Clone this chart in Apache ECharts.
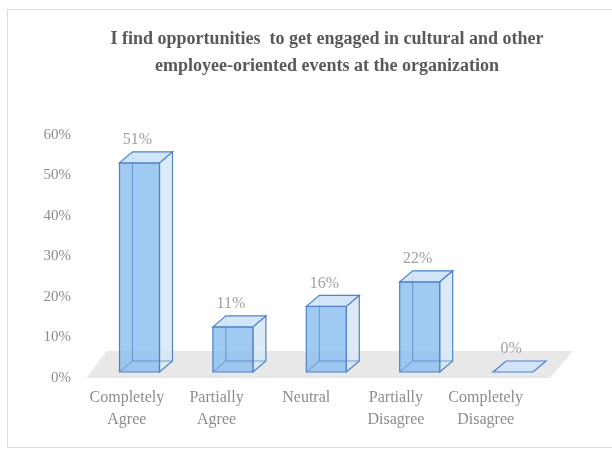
<!DOCTYPE html>
<html>
<head>
<meta charset="utf-8">
<script src="https://cdn.jsdelivr.net/npm/echarts@6/dist/echarts.min.js"></script>
<style>
  html, body { margin: 0; padding: 0; background: #ffffff; }
  #chart { width: 612px; height: 450px; }
</style>
</head>
<body>
<div id="chart"></div>
<script>
// Survey responses, share of respondents per answer
const categories = [
  'Completely\nAgree',
  'Partially\nAgree',
  'Neutral',
  'Partially\nDisagree',
  'Completely\nDisagree'
];
const shares = [51, 11, 16, 22, 0];
const yTicks = [0, 10, 20, 30, 40, 50, 60];
const titleLines = [
  'I find opportunities  to get engaged in cultural and other',
  'employee-oriented events at the organization'
];

const SERIF = '"Liberation Serif", "Times New Roman", serif';
const TEXT_GREY = '#8c8c8c';

// 3D box geometry (pixels)
const HALF_W = 20;      // half width of the front face
const DEPTH_X = 13;     // horizontal shift of the back face
const DEPTH_Y = -11;    // vertical shift of the back face

const EDGE = '#4f82c8';
const EDGE_BACK = 'rgba(79,130,200,0.75)';

function renderBox(params, api) {
  const idx = api.value(0);
  const val = api.value(1);
  const top = api.coord([idx, val]);
  const base = api.coord([idx, 0]);
  const cx = top[0];
  const xl = cx - HALF_W, xr = cx + HALF_W;
  const yt = top[1], yb = base[1];
  const bxl = xl + DEPTH_X, bxr = xr + DEPTH_X;
  const byt = yt + DEPTH_Y, byb = yb + DEPTH_Y;

  const children = [];
  if (yb - yt > 0.5) {
    // right side face
    children.push({
      type: 'polygon',
      shape: { points: [[xr, yb], [bxr, byb], [bxr, byt], [xr, yt]] },
      style: { fill: 'rgba(214,230,247,0.85)', stroke: EDGE, lineWidth: 1.2 }
    });
    // front face
    children.push({
      type: 'rect',
      shape: { x: xl, y: yt, width: xr - xl, height: yb - yt },
      style: { fill: 'rgba(140,190,240,0.82)', stroke: EDGE, lineWidth: 1.2 }
    });
    // hidden back edges seen through the translucent front
    children.push({
      type: 'polyline',
      shape: { points: [[bxl, byt], [bxl, byb], [bxr, byb]] },
      style: { stroke: EDGE_BACK, lineWidth: 1, fill: null }
    });
    children.push({
      type: 'line',
      shape: { x1: xl, y1: yb, x2: bxl, y2: byb },
      style: { stroke: EDGE_BACK, lineWidth: 1 }
    });
  }
  // top face
  children.push({
    type: 'polygon',
    shape: { points: [[xl, yt], [xr, yt], [bxr, byt], [bxl, byt]] },
    style: { fill: 'rgba(205,226,248,0.9)', stroke: EDGE, lineWidth: 1.2 }
  });
  // value label
  children.push({
    type: 'text',
    style: {
      x: cx - 2,
      y: byt - 12,
      text: val + '%',
      align: 'center',
      verticalAlign: 'middle',
      font: '16px ' + SERIF,
      fill: '#a0a0a0'
    }
  });
  return { type: 'group', children: children };
}

// grey floor under the boxes, sized from the first and last category
function renderFloor(params, api) {
  const first = api.coord([0, 0]);
  const last = api.coord([categories.length - 1, 0]);
  const y = first[1];
  return {
    type: 'polygon',
    shape: {
      points: [
        [first[0] - 53, y + 6],
        [last[0] + 37, y + 6],
        [last[0] + 60, y - 21],
        [first[0] - 33, y - 21]
      ]
    },
    style: { fill: '#e8e8e8' }
  };
}

const chart = echarts.init(document.getElementById('chart'), null, { renderer: 'canvas' });

chart.setOption({
  backgroundColor: '#ffffff',
  animation: false,
  title: {
    text: titleLines.join('\n'),
    left: 322,
    top: 21,
    textAlign: 'center',
    textStyle: {
      fontFamily: SERIF,
      fontWeight: 'bold',
      fontSize: 18,
      lineHeight: 27,
      color: '#595959'
    }
  },
  graphic: [{
    type: 'rect',
    shape: { x: 7.5, y: 9.5, width: 640, height: 438 },
    style: { fill: null, stroke: '#dcdcdc', lineWidth: 1 },
    silent: true,
    z: -10
  }],
  grid: [
    // boxes
    { left: 92.8, top: 126, width: 467, height: 246 },
    // axis labels
    { left: 82, top: 135, width: 448.5, height: 243 }
  ],
  xAxis: [
    {
      type: 'category', gridIndex: 0, data: categories,
      axisLine: { show: false }, axisTick: { show: false }, axisLabel: { show: false }
    },
    {
      type: 'category', gridIndex: 1, data: categories,
      axisLine: { show: false }, axisTick: { show: false },
      axisLabel: {
        margin: 9,
        fontFamily: SERIF, fontSize: 16, lineHeight: 22,
        color: TEXT_GREY, interval: 0
      }
    }
  ],
  yAxis: [
    {
      type: 'value', gridIndex: 0, min: 0, max: 60, interval: 10,
      axisLine: { show: false }, axisTick: { show: false },
      axisLabel: { show: false }, splitLine: { show: false }
    },
    {
      type: 'value', gridIndex: 1,
      min: yTicks[0], max: yTicks[yTicks.length - 1], interval: 10,
      axisLine: { show: false }, axisTick: { show: false }, splitLine: { show: false },
      axisLabel: {
        margin: 11,
        fontFamily: SERIF, fontSize: 15,
        color: TEXT_GREY,
        formatter: v => v + '%'
      }
    }
  ],
  series: [
    {
      type: 'custom',
      xAxisIndex: 0, yAxisIndex: 0,
      z: 1,
      silent: true,
      renderItem: renderFloor,
      data: [[0, 0]]
    },
    {
      type: 'custom',
      xAxisIndex: 0, yAxisIndex: 0,
      z: 2,
      silent: true,
      renderItem: renderBox,
      encode: { x: 0, y: 1 },
      data: shares.map((v, i) => [i, v])
    }
  ]
});
</script>
</body>
</html>
